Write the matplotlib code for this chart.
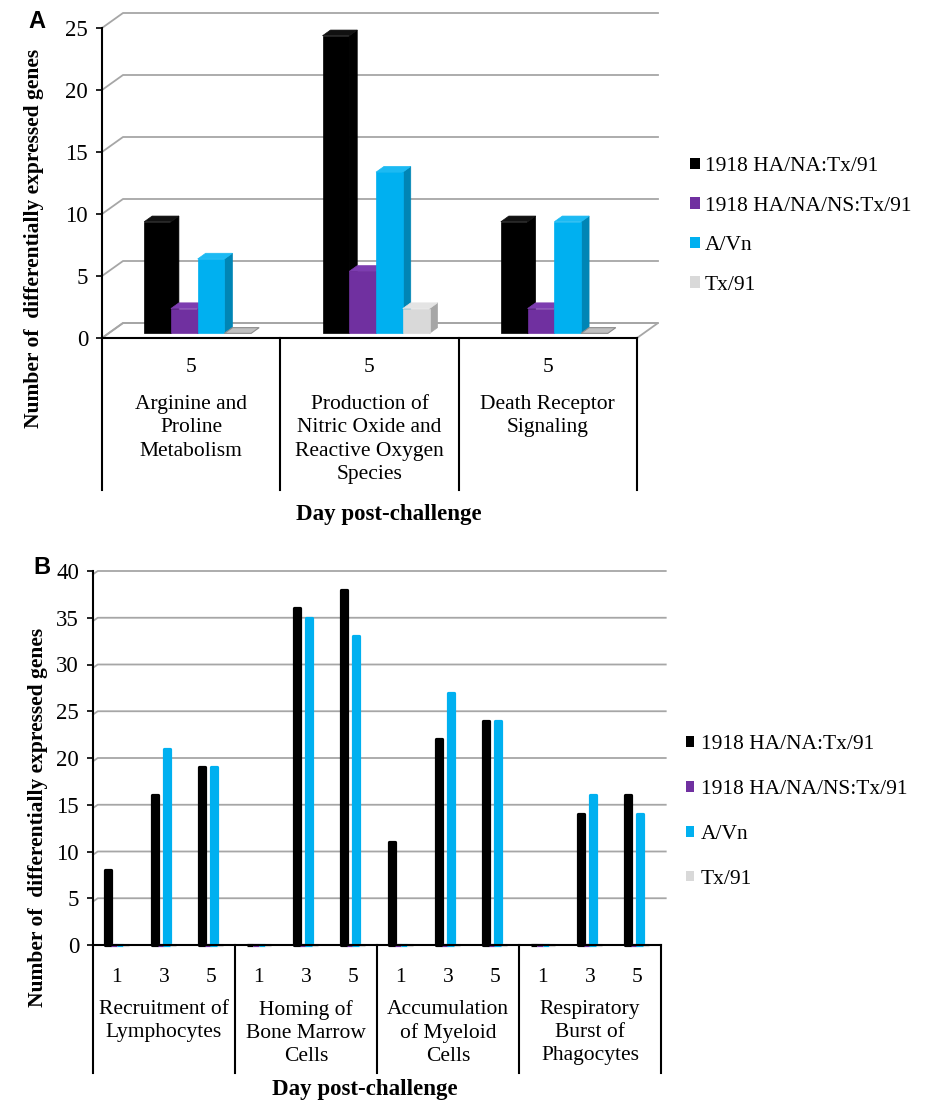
import matplotlib
matplotlib.use("Agg")
import matplotlib.pyplot as plt
from matplotlib.patches import Polygon, Patch

plt.rcParams['font.family'] = ['Liberation Serif', 'DejaVu Serif']

# series names and colours
series = ['1918 HA/NA:Tx/91', '1918 HA/NA/NS:Tx/91', 'A/Vn', 'Tx/91']
colors = ['#000000', '#7030A0', '#00B0F0', '#D9D9D9']
tops = ['#111111', '#7d3db0', '#1cbaf3', '#e4e4e4']
sides = ['#000000', '#4d1f72', '#0085b5', '#a6a6a6']

# panel A: pathways, day 5 only
cats_a = ['Arginine and\nProline\nMetabolism',
          'Production of\nNitric Oxide and\nReactive Oxygen\nSpecies',
          'Death Receptor\nSignaling']
days_a = ['5', '5', '5']
vals_a = [
    [9, 24, 9],   # 1918 HA/NA:Tx/91
    [2, 5, 2],    # 1918 HA/NA/NS:Tx/91
    [6, 13, 9],   # A/Vn
    [0, 2, 0],    # Tx/91
]

# panel B: functions at days 1, 3, 5
cats_b = ['Recruitment of\nLymphocytes', 'Homing of\nBone Marrow\nCells',
          'Accumulation\nof Myeloid\nCells', 'Respiratory\nBurst of\nPhagocytes']
days_b = ['1', '3', '5']
vals_b = [
    [8, 16, 19, 0, 36, 38, 11, 22, 24, 0, 14, 16],
    [0, 0, 0, 0, 0, 0, 0, 0, 0, 0, 0, 0],
    [0, 21, 19, 0, 35, 33, 0, 27, 24, 0, 16, 14],
    [0, 0, 0, 0, 0, 0, 0, 0, 0, 0, 0, 0],
]

W, H = 930, 1108
fig = plt.figure(figsize=(W / 100, H / 100), dpi=100)


def box(l, t, r, b):
    return [l / W, 1 - b / H, (r - l) / W, (b - t) / H]


grid_c = '#a6a6a6'
fs = 15.5
tick_fs = 16.5

# ---------------- panel A (pseudo 3D columns) ----------------
ax = fig.add_axes(box(102, 28, 637, 338))
ax.set_xlim(0, 3)
ax.set_ylim(0, 25)
DDX = 21 / (535 / 3)   # depth offset in category units
DDY = 15 / (310 / 25)  # depth offset in value units


def sh(x, y, z):
    return (x + z * DDX, y + z * DDY)


# floor and back wall grid
ax.add_patch(Polygon([sh(0, 0, 0), sh(3, 0, 0), sh(3, 0, 1), sh(0, 0, 1)],
                     closed=True, fc='white', ec=grid_c, lw=1.3,
                     clip_on=False, zorder=1))
for v in range(0, 26, 5):
    p0, p1, p2 = sh(0, v, 0), sh(0, v, 1), sh(3, v, 1)
    ax.plot([p0[0], p1[0], p2[0]], [p0[1], p1[1], p2[1]], color=grid_c,
            lw=1.3, clip_on=False, zorder=1)

z0, z1 = 0.31, 0.69
bw = 0.15
for i in range(3):
    for k in range(4):
        h = vals_a[k][i]
        x0 = i + 0.5 + (k - 2) * bw
        x1 = x0 + bw
        side = [sh(x1, 0, z0), sh(x1, 0, z1), sh(x1, h, z1), sh(x1, h, z0)]
        top = [sh(x0, h, z0), sh(x1, h, z0), sh(x1, h, z1), sh(x0, h, z1)]
        front = [sh(x0, 0, z0), sh(x1, 0, z0), sh(x1, h, z0), sh(x0, h, z0)]
        zo = 3 + i * 4 + k
        if h > 0:
            ax.add_patch(Polygon(side, closed=True, fc=sides[k], ec=sides[k],
                                 lw=0.5, clip_on=False, zorder=zo))
            ax.add_patch(Polygon(top, closed=True, fc=tops[k], ec=tops[k],
                                 lw=0.5, clip_on=False, zorder=zo))
            ax.add_patch(Polygon(front, closed=True, fc=colors[k],
                                 ec=colors[k], lw=0.5, clip_on=False, zorder=zo))
        else:
            ax.add_patch(Polygon(top, closed=True, fc='#bfbfbf', ec='#8c8c8c',
                                 lw=0.8, clip_on=False, zorder=zo))

for s in ['top', 'right']:
    ax.spines[s].set_visible(False)
for s in ['left', 'bottom']:
    ax.spines[s].set_linewidth(1.5)
    ax.spines[s].set_zorder(20)
ax.set_yticks(range(0, 26, 5))
ax.tick_params(axis='y', length=4, width=1.2, pad=6, labelsize=tick_fs)
ax.set_xticks([])
ax.patch.set_visible(False)

tra = ax.get_xaxis_transform()
for x in range(4):
    ax.plot([x, x], [0, -(490 - 338) / 310], transform=tra, color='black',
            lw=1.5, clip_on=False)
for i in range(3):
    ax.text(i + 0.5, -(367 - 338) / 310, days_a[i], transform=tra,
            ha='center', va='center', fontsize=fs)
    ax.text(i + 0.5, -(395 - 338) / 310, cats_a[i], transform=tra,
            ha='center', va='top', fontsize=fs, linespacing=1.32)

fig.text(37 / W, 1 - 21 / H, 'A', fontsize=17, fontweight='bold',
         family='Liberation Sans', ha='center', va='center')
fig.text(34 / W, 1 - 238 / H, 'Number of  differentially expressed genes',
         rotation=90, fontsize=fs, fontweight='bold', ha='center', va='center')
fig.text(389 / W, 1 - 515 / H, 'Day post-challenge', fontsize=16.5,
         fontweight='bold', ha='center', va='center')

hand = [Patch(fc=c, ec='none') for c in colors]
fig.legend(hand, series, loc='center left', bbox_to_anchor=(690 / W, 1 - 226 / H),
           frameon=False, fontsize=fs, handlelength=0.45, handleheight=0.45,
           handletextpad=0.25, labelspacing=0.95, borderpad=0, borderaxespad=0)

# ---------------- panel B (clustered columns) ----------------
bx = fig.add_axes(box(93, 571, 661, 945))
bx.set_xlim(-0.5, 11.5)
bx.set_ylim(0, 40)
for v in range(5, 41, 5):
    bx.plot([-0.5, -0.4, 11.6], [v - 0.35, v, v], color=grid_c, lw=1.3,
            clip_on=False, zorder=1)

xs = list(range(12))
bwb = 0.127
for k in range(4):
    bx.bar([x + (k - 1.5) * bwb for x in xs], vals_b[k], width=bwb,
           color=colors[k], edgecolor=colors[k], linewidth=2.3,
           joinstyle='round', zorder=3 + k, clip_on=False)

for s in ['top', 'right']:
    bx.spines[s].set_visible(False)
for s in ['left', 'bottom']:
    bx.spines[s].set_linewidth(1.5)
    bx.spines[s].set_zorder(20)
bx.set_yticks(range(0, 41, 5))
bx.tick_params(axis='y', length=4, width=1.2, pad=6, labelsize=tick_fs)
bx.set_xticks([])
bx.patch.set_visible(False)

trb = bx.get_xaxis_transform()
for x in [-0.5, 2.5, 5.5, 8.5, 11.5]:
    bx.plot([x, x], [0, -(1073 - 945) / 374], transform=trb, color='black',
            lw=1.5, clip_on=False)
for j in range(12):
    bx.text(j, -(977 - 945) / 374, days_b[j % 3], transform=trb,
            ha='center', va='center', fontsize=fs)
for i in range(4):
    bx.text(3 * i + 1, -(1000 - 945) / 374, cats_b[i], transform=trb,
            ha='center', va='top', fontsize=fs, linespacing=1.28)

fig.text(42 / W, 1 - 568 / H, 'B', fontsize=17, fontweight='bold',
         family='Liberation Sans', ha='center', va='center')
fig.text(38 / W, 1 - 817 / H, 'Number of  differentially expressed genes',
         rotation=90, fontsize=fs, fontweight='bold', ha='center', va='center')
fig.text(365 / W, 1 - 1090 / H, 'Day post-challenge', fontsize=16.5,
         fontweight='bold', ha='center', va='center')

hand_b = [Patch(fc=c, ec='none') for c in colors]
fig.legend(hand_b, series, loc='center left', bbox_to_anchor=(686 / W, 1 - 812 / H),
           frameon=False, fontsize=fs, handlelength=0.38, handleheight=0.38,
           handletextpad=0.3, labelspacing=1.2, borderpad=0, borderaxespad=0)

fig.savefig('out.png', dpi=100)
